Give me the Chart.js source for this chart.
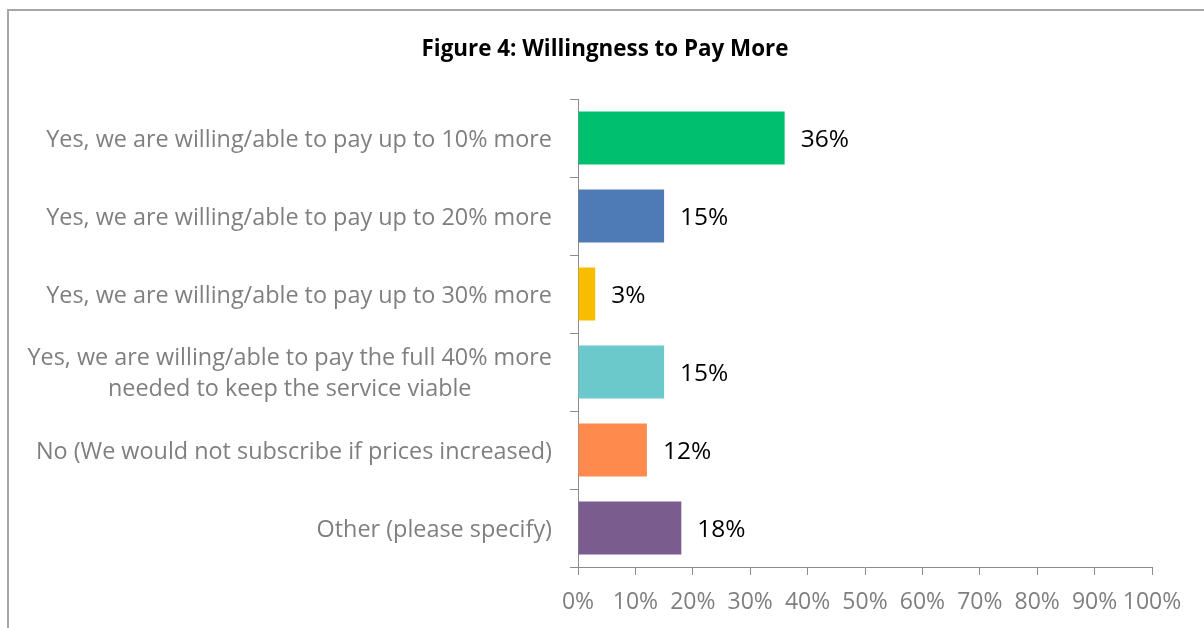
<!DOCTYPE html>
<html>
<head>
<meta charset="utf-8">
<script src="https://cdn.jsdelivr.net/npm/chart.js@4"></script>
<style>
  body { margin: 0; background: #fff; }
  #wrap { position: relative; width: 1204px; height: 628px; }
  #frame {
    position: absolute; left: 7px; top: 9px; right: 0; bottom: 0;
    border-left: 2px solid #a6a6a6; border-top: 2px solid #a6a6a6;
    pointer-events: none;
  }
</style>
</head>
<body>
<div id="wrap">
  <canvas id="chart" width="1204" height="628"></canvas>
  <div id="frame"></div>
</div>
<script>
const chartTitle = "Figure 4: Willingness to Pay More";
const answers = [
  "Yes, we are willing/able to pay up to 10% more",
  "Yes, we are willing/able to pay up to 20% more",
  "Yes, we are willing/able to pay up to 30% more",
  ["Yes, we are willing/able to pay the full 40% more", "needed to keep the service viable"],
  "No (We would not subscribe if prices increased)",
  "Other (please specify)"
];
const shares = [36, 15, 3, 15, 12, 18];
const barColors = ["#00bf6f", "#4e7ab5", "#f9bd00", "#6bc9cc", "#ff8a4e", "#7b5c8f"];
const xTicks = [0, 10, 20, 30, 40, 50, 60, 70, 80, 90, 100];

const fontFamily = "'Open Sans', sans-serif";
const axisGrey = "#8c8c8c";

// title drawn by hand so it is centred on the whole frame, not the padded box
const titlePlugin = {
  id: "titlePlugin",
  afterDraw(chart) {
    const ctx = chart.ctx;
    ctx.save();
    ctx.font = "bold 22.4px " + fontFamily;
    ctx.fillStyle = "#000";
    ctx.textAlign = "center";
    ctx.textBaseline = "middle";
    ctx.fillText(chartTitle, 605, 50);
    ctx.restore();
  }
};

// category labels: right edge fixed, lines centred on each other
const categoryLabels = {
  id: "categoryLabels",
  afterDraw(chart) {
    const ctx = chart.ctx;
    const y = chart.scales.y;
    const right = y.right - 26;
    ctx.save();
    ctx.font = "23.4px " + fontFamily;
    ctx.fillStyle = "#7f7f7f";
    ctx.textAlign = "center";
    ctx.textBaseline = "middle";
    answers.forEach((lab, i) => {
      const lines = Array.isArray(lab) ? lab : [lab];
      const w = Math.max(...lines.map(l => ctx.measureText(l).width));
      const cx = right - w / 2;
      const mid = y.getPixelForValue(i) + 2;
      const lh = 31;
      lines.forEach((l, j) => {
        ctx.fillText(l, cx, mid + (j - (lines.length - 1) / 2) * lh);
      });
    });
    ctx.restore();
  }
};

// percentage labels at the end of each bar
const valueLabels = {
  id: "valueLabels",
  afterDatasetsDraw(chart) {
    const ctx = chart.ctx;
    const meta = chart.getDatasetMeta(0);
    ctx.save();
    ctx.font = "24.5px " + fontFamily;
    ctx.fillStyle = "#000";
    ctx.textAlign = "left";
    ctx.textBaseline = "middle";
    meta.data.forEach((bar, i) => {
      ctx.fillText(shares[i] + "%", bar.x + 16, bar.y + 2);
    });
    ctx.restore();
  }
};

new Chart(document.getElementById("chart"), {
  type: "bar",
  data: {
    labels: answers,
    datasets: [{
      data: shares,
      backgroundColor: barColors,
      categoryPercentage: 1,
      barPercentage: 0.68
    }]
  },
  options: {
    indexAxis: "y",
    responsive: false,
    animation: false,
    devicePixelRatio: 1,
    layout: { padding: { left: 0, right: 52, top: 99, bottom: 0 } },
    plugins: {
      legend: { display: false },
      tooltip: { enabled: false },
      title: { display: false }
    },
    scales: {
      x: {
        min: 0,
        max: 100,
        afterBuildTicks(scale) {
          scale.ticks = xTicks.map(v => ({ value: v }));
        },
        afterFit(scale) { scale.height = 61; },
        grid: {
          drawOnChartArea: false,
          tickLength: 8,
          color: axisGrey
        },
        border: { color: axisGrey, width: 1 },
        ticks: {
          color: "#7f7f7f",
          padding: 14,
          maxRotation: 0,
          autoSkip: false,
          font: { family: fontFamily, size: 23 },
          callback: v => v + "%"
        }
      },
      y: {
        afterFit(scale) { scale.width = 578; },
        grid: {
          offset: true,
          drawOnChartArea: false,
          tickLength: 8,
          color: axisGrey
        },
        border: { color: axisGrey, width: 1 },
        ticks: { display: false }
      }
    }
  },
  plugins: [titlePlugin, categoryLabels, valueLabels]
});
</script>
</body>
</html>
